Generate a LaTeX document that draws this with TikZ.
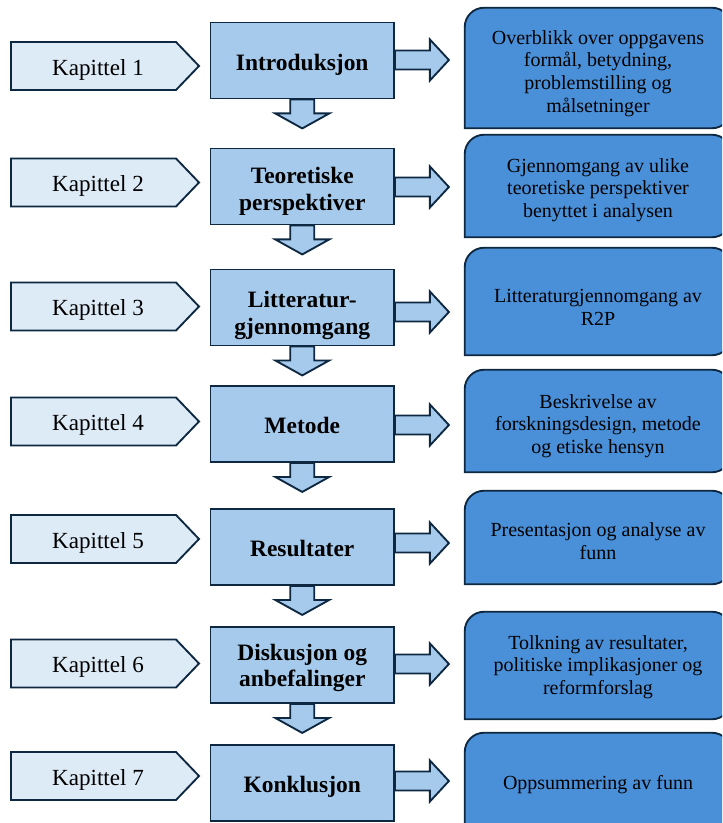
\documentclass[tikz,border=0pt]{standalone}
\usepackage{fontspec}
\setmainfont{Liberation Serif}
\usetikzlibrary{calc,backgrounds}
\definecolor{edge}{HTML}{0E2841}
\definecolor{paleblue}{HTML}{DDEBF7}
\definecolor{midblue}{HTML}{A6CAEC}
\definecolor{deepblue}{HTML}{4A90D9}
\begin{document}
\begin{tikzpicture}[x=0.75pt,y=-0.75pt,
  outline/.style={draw=edge,line width=1.4pt,line join=miter},
  chaptext/.style={inner sep=0pt,font=\fontsize{17.3pt}{20pt}\selectfont},
  mainbox/.style={outline,fill=midblue,minimum width=137.6pt,minimum height=57pt,inner sep=0pt},
  maintext/.style={inner sep=0pt,align=center,font=\bfseries\fontsize{17.6pt}{20pt}\selectfont},
  sidebox/.style={minimum width=199.5pt,inner sep=2pt,align=center,
    font=\fontsize{15pt}{17pt}\selectfont},
  blockarrow/.style={outline,fill=midblue}]
\useasboundingbox (0,0) rectangle (722,823);
\clip (0,0) rectangle (722,823);
\foreach \i/\ky/\my/\dy/\mo/\ry/\ro/\rh/\mt/\rt in {
  1/66/60.5/-0.5/4/68/5.5/90/{Introduksjon}/{Overblikk over oppgavens\\formål, betydning,\\problemstilling og\\målsetninger},
  2/182.5/186.5/0.5/5/186/4/76.5/{Teoretiske\\perspektiver}/{Gjennomgang av ulike\\teoretiske perspektiver\\benyttet i analysen},
  3/306.5/307.5/4.5/8/301.5/6/80.25/{Litteratur-\\gjennomgang}/{Litteraturgjennomgang av\\R2P},
  4/421.5/424/1/1.5/421/5/76.5/{Metode}/{Beskrivelse av\\forskningsdesign, metode\\og etiske hensyn},
  5/539/547/-4/1.5/537.5/3.5/69.75/{Resultater}/{Presentasjon og analyse av\\funn},
  6/663.5/665/-1/3/665.5/1.5/80.25/{Diskusjon og\\anbefalinger}/{Tolkning av resultater,\\politiske implikasjoner og\\reformforslag},
  7/776/783/-2/4/783/2/75/{Konklusjon}/{Oppsummering av funn}}{
  % chapter label
  \node[chaptext] (k\i) at (98,{\ky+3.5}) {Kapittel \i};
  % main box and its title
  \node[mainbox] (m\i) at (302.25,\my) {};
  \node[maintext] (t\i) at ($(m\i)+(0,\mo)$) {\mt};
  % description box
  \node[sidebox,minimum height=\rh pt] (r\i) at (598,{\ry+\ro}) {\rt};
  \begin{pgfonlayer}{background}
    \begin{scope}
    \clip (0,0) rectangle (722,823);
    \draw[outline,fill=paleblue] ($(k\i)+(-87,-27.5)$) -- ($(k\i)+(78,-27.5)$)
      -- ($(k\i)+(101,-3.5)$) -- ($(k\i)+(78,20.5)$) -- ($(k\i)+(-87,20.5)$) -- cycle;
    \draw[outline,fill=deepblue] ($(r\i.south west)+(0,-\ro)$) -- ($(r\i.west)+(0,-\ro)$)
      [rounded corners=14.5pt] -- ($(r\i.north west)+(0,-\ro)$) -- ($(r\i.north east)+(0,-\ro)$)
      -- ($(r\i.south east)+(0,-\ro)$) [sharp corners] -- cycle;
    \end{scope}
  \end{pgfonlayer}
  % right block arrow
  \coordinate (e\i) at ($(m\i.east)+(0,\dy)$);
  \draw[blockarrow] ($(e\i)+(0,-9.5)$) -- ($(e\i)+(35,-9.5)$) -- ($(e\i)+(35,-20.5)$)
    -- ($(e\i)+(54,0)$) -- ($(e\i)+(35,20.5)$) -- ($(e\i)+(35,9.5)$)
    -- ($(e\i)+(0,9.5)$) -- cycle;
}
% downward block arrows between the main boxes
\foreach \i in {1,...,6}{
  \draw[blockarrow] ($(m\i.south)+(-12,0)$) -- ($(m\i.south)+(-12,14)$)
    -- ($(m\i.south)+(-27,14)$) -- ($(m\i.south)+(0,29)$)
    -- ($(m\i.south)+(27,14)$) -- ($(m\i.south)+(12,14)$)
    -- ($(m\i.south)+(12,0)$) -- cycle;
}
\end{tikzpicture}
\end{document}
